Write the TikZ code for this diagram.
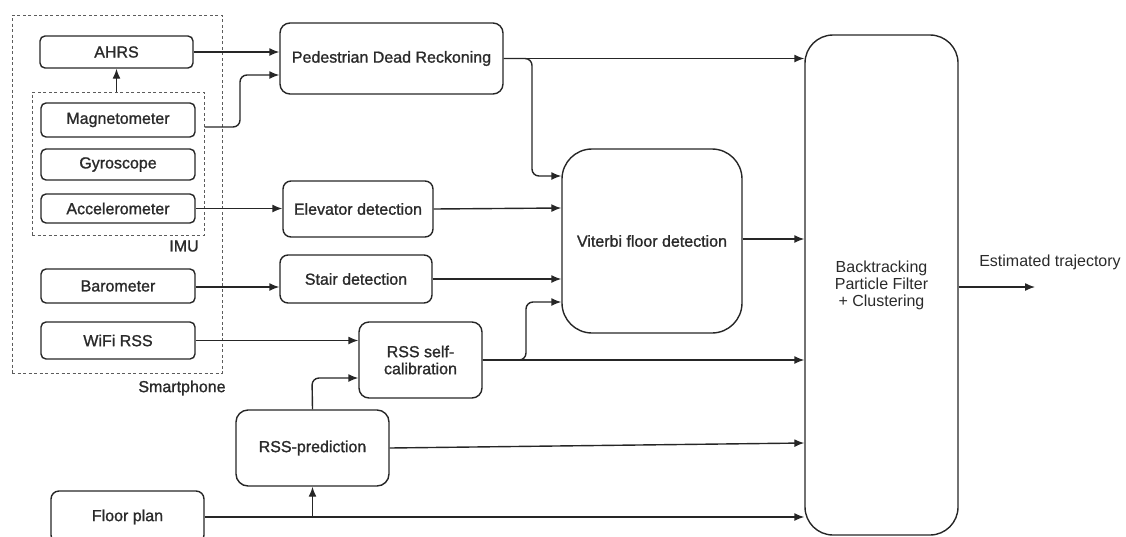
\documentclass[tikz,border=0pt]{standalone}
\usepackage{fontspec}
\setmainfont{Liberation Sans}[BoldFont=Liberation Sans, BoldFeatures={FakeBold=1.2}]
\usetikzlibrary{arrows.meta}
\definecolor{ln}{HTML}{262626}
\definecolor{tx}{HTML}{2A2A2A}
\begin{document}
\begin{tikzpicture}[x=1pt,y=-1pt,
  every node/.style={font=\fontsize{16}{19}\selectfont, text=tx},
  blk/.style={draw=ln, line width=1.4pt, rounded corners=#1, inner sep=0pt, align=center, font=\fontsize{16}{19}\selectfont\bfseries},
  blk/.default=5pt,
  dbox/.style={draw=ln!75, line width=1pt, dash pattern=on 3pt off 2.5pt, inner sep=0pt},
  conn/.style={draw=ln, line width=1.4pt, -{Latex[length=10pt,width=8pt]}, rounded corners=7pt}]
\useasboundingbox (0,0) rectangle (1126,536);
\clip (0,0) rectangle (1126,536);
% containers
\node[dbox, minimum width=210pt, minimum height=358pt] (phone) at (117,194) {};
\node[dbox, minimum width=172pt, minimum height=143pt] (imu) at (118,163.5) {};
\node[font=\fontsize{16}{19}\selectfont\bfseries] (imul) at (184,246) {IMU};
\node[font=\fontsize{16}{19}\selectfont\bfseries] (phonel) at (182,388) {Smartphone};
% sensors
\node[blk, minimum width=153pt, minimum height=32pt] (ahrs) at (116.5,52) {AHRS};
\node[blk, minimum width=154pt, minimum height=34pt] (mag) at (118,120) {Magnetometer};
\node[blk, minimum width=154pt, minimum height=31pt] (gyr) at (118,164.5) {Gyroscope};
\node[blk, minimum width=154pt, minimum height=29pt] (acc) at (118,208.5) {Accelerometer};
\node[blk, minimum width=154pt, minimum height=34pt] (bar) at (118,286) {Barometer};
\node[blk, minimum width=154pt, minimum height=37pt] (wifi) at (118,340.5) {WiFi RSS};
\node[blk=8pt, minimum width=153pt, minimum height=52pt] (floor) at (127.5,517) {Floor plan};
% processing
\node[blk=10pt, minimum width=223pt, minimum height=71pt] (pdr) at (391.5,58.5) {Pedestrian Dead Reckoning};
\node[blk=8pt, minimum width=150pt, minimum height=56pt] (elev) at (358,209) {Elevator detection};
\node[blk=8pt, minimum width=152pt, minimum height=48pt] (stair) at (356,279) {Stair detection};
\node[blk=10pt, minimum width=123pt, minimum height=76pt] (cal) at (420.5,360) {RSS self-\\[-2pt]calibration};
\node[blk=12pt, minimum width=153pt, minimum height=76pt] (pred) at (312.5,448) {RSS-prediction};
\node[blk=30pt, minimum width=180pt, minimum height=184pt] (vit) at (652,241) {Viterbi floor detection};
\node[blk=28pt, minimum width=153pt, minimum height=500pt, font=\fontsize{16}{19}\selectfont] (back) at (881.5,285) {Backtracking\\[-2pt]Particle Filter\\[-2pt]+ Clustering};
\node (estl) at (1050,262) {Estimated trajectory};
\coordinate (out) at (1035,287);
% connectors
\draw[conn] (ahrs.east) -- (ahrs.east -| pdr.west);
\draw[conn] (imu.north -| ahrs.south) -- (ahrs.south);
\draw[conn] (imu.east |- 0,127) -- (240,127) -- (240,75) -- (pdr.west |- 0,75);
\draw[conn] (acc.east) -- (acc.east -| elev.west);
\draw[conn] (bar.east |- 0,287) -- (stair.west |- 0,287);
\draw[conn] (wifi.east) -- (wifi.east -| cal.west);
\draw[conn] (pred.north) -- (312,378) -- (cal.west |- 0,378);
\draw[conn] (floor.east) -- (floor.east -| back.west);
\draw[conn] (floor.east -| pred.south) -- (pred.south);
\draw[conn] (pred.east) -- (back.west |- 0,443);
\draw[conn] (pdr.east) -- (pdr.east -| back.west);
\draw[conn] (pdr.east) -- (532,58.5) -- (532,176) -- (vit.west |- 0,176);
\draw[conn] (elev.east) -- (vit.west |- 0,208);
\draw[conn] (stair.east) -- (stair.east -| vit.west);
\draw[conn] (cal.east) -- (cal.east -| back.west);
\draw[conn] (cal.east) -- (526,360) -- (526,302) -- (vit.west |- 0,302);
\draw[conn] (vit.east |- 0,239) -- (back.west |- 0,239);
\draw[conn] (back.east |- out) -- (out);
\end{tikzpicture}
\end{document}
